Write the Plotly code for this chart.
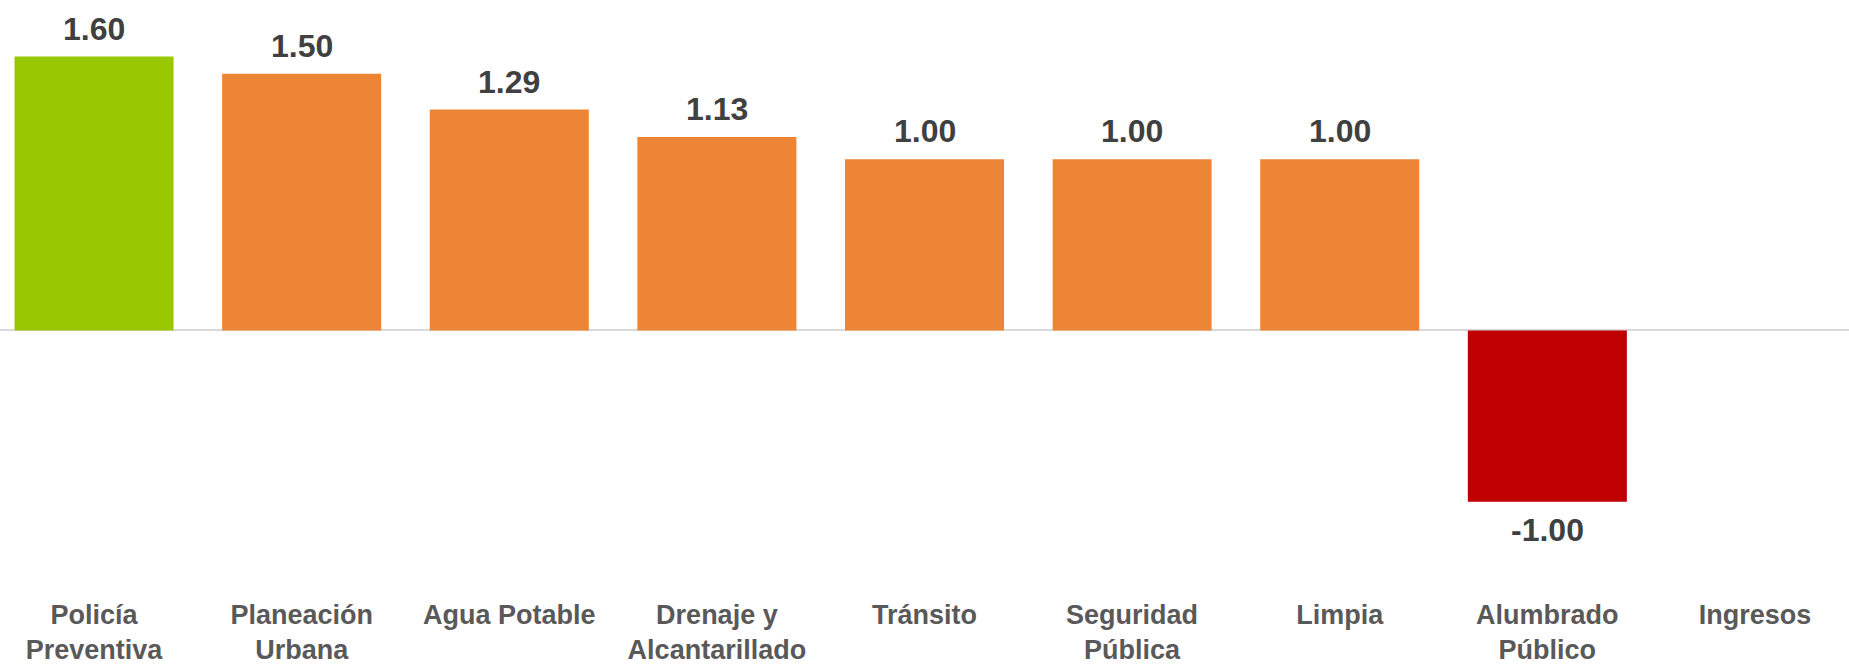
import plotly.graph_objects as go

categories = ["Policía<br>Preventiva", "Planeación<br>Urbana", "Agua Potable",
              "Drenaje y<br>Alcantarillado", "Tránsito", "Seguridad<br>Pública",
              "Limpia", "Alumbrado<br>Público", "Ingresos"]
values = [1.60, 1.50, 1.29, 1.13, 1.00, 1.00, 1.00, -1.00, None]
bar_colors = ["#99C800", "#ED8536", "#ED8536", "#ED8536", "#ED8536",
              "#ED8536", "#ED8536", "#C00000", "#ED8536"]
value_labels = ["1.60", "1.50", "1.29", "1.13", "1.00", "1.00", "1.00", "-1.00", ""]

FONT = "Liberation Sans, Arial, sans-serif"

fig = go.Figure()
fig.add_trace(go.Bar(
    x=categories, y=values, marker_color=bar_colors, width=0.766,
    marker_line_width=0, hoverinfo="skip",
))

annotations = []
for c, v, lab in zip(categories, values, value_labels):
    if v is None or lab == "":
        continue
    if v >= 0:
        annotations.append(dict(x=c, y=v, text=f"<b>{lab}</b>", showarrow=False,
                                yanchor="bottom", yshift=8,
                                font=dict(family=FONT, size=32, color="#404040")))
    else:
        annotations.append(dict(x=c, y=v, text=f"<b>{lab}</b>", showarrow=False,
                                yanchor="top", yshift=-8,
                                font=dict(family=FONT, size=32, color="#404040")))

fig.update_layout(
    width=1849, height=667,
    margin=dict(l=0, r=0, t=0, b=72, pad=0, autoexpand=False),
    plot_bgcolor="white", paper_bgcolor="white",
    showlegend=False,
    annotations=annotations,
)
fig.update_xaxes(
    type="category", range=[-0.453, 8.453], automargin=False,
    showgrid=False, showline=False, ticks="",
    tickfont=dict(family=FONT, size=27, color="#595959"),
    ticklabelstandoff=1,
    ticktext=[f"<b>{c}</b>" for c in categories], tickvals=categories,
)
fig.update_yaxes(
    range=[-1.545, 1.93], automargin=False, showgrid=False, showticklabels=False,
    zeroline=True, zerolinecolor="#D9D9D9", zerolinewidth=2,
)

fig.write_html("out.html", config={"displayModeBar": False},
               post_script="document.body.style.margin='0px';document.body.style.overflow='hidden';")
